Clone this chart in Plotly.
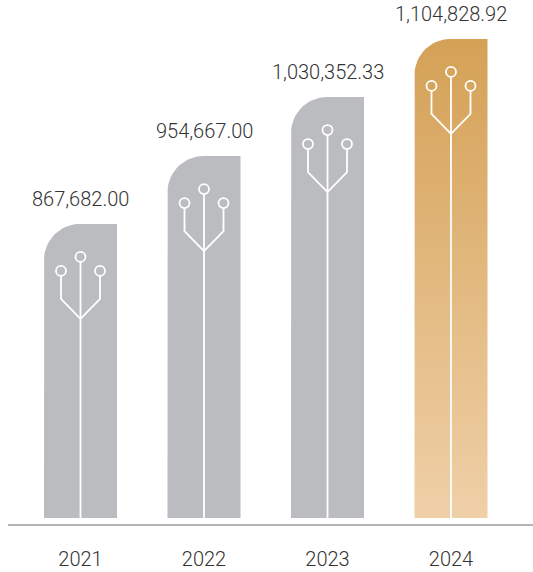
import numpy as np
import plotly.graph_objects as go

years = ["2021", "2022", "2023", "2024"]
values = [867682.00, 954667.00, 1030352.33, 1104828.92]
labels = ["867,682.00", "954,667.00", "1,030,352.33", "1,104,828.92"]

GREY = "#BBBCBF"
GOLD_TOP = "#D4A156"
GOLD_BOTTOM = "#F0D0A8"
TEXT = "#333333"
FONT = "Roboto"

W, H = 533, 572
M_L, M_B = 8, 48
PLOT_H = H - M_B
PX_X = 123.5            # pixels per category
X0_PX = 80.5            # pixel centre of first category
UNITS_PER_PX = 1282.0
BASE = 490664.0         # value at the bars' foot
FOOT_GAP = 6            # px between bar foot and axis line

xr = [(M_L - X0_PX) / PX_X, (W - X0_PX) / PX_X]
yr = [BASE - FOOT_GAP * UNITS_PER_PX, BASE + (PLOT_H - FOOT_GAP) * UNITS_PER_PX]


def dx(px):
    return px / PX_X


def dy(px):
    return px * UNITS_PER_PX


fig = go.Figure()
HALF = 36.5
R = 36
for i, v in enumerate(values):
    t = np.linspace(np.pi, np.pi / 2, 16)
    xs = [i - dx(HALF)] + list(i + dx(-HALF + R) + dx(R) * np.cos(t)) + [i + dx(HALF), i + dx(HALF), i - dx(HALF)]
    ys = [BASE] + list(v - dy(R) + dy(R) * np.sin(t)) + [v, BASE, BASE]
    tr = dict(x=xs, y=ys, mode="lines", line=dict(width=0), fill="toself", hoverinfo="skip", showlegend=False)
    if i == 3:
        tr["fillgradient"] = dict(type="vertical", colorscale=[[0, GOLD_BOTTOM], [1, GOLD_TOP]])
    else:
        tr["fillcolor"] = GREY
    fig.add_trace(go.Scatter(**tr))

    # tree icon
    C = 33
    O = 47
    EL = 75
    J = 95
    S = 19.5
    CR = 5
    lx = [i, i, None,
          i - dx(S), i - dx(S), i, None,
          i + dx(S), i + dx(S), i]
    ly = [v - dy(C + CR), BASE, None,
          v - dy(O + CR), v - dy(EL), v - dy(J), None,
          v - dy(O + CR), v - dy(EL), v - dy(J)]
    fig.add_trace(go.Scatter(x=lx, y=ly, mode="lines", line=dict(color="white", width=1.8),
                             hoverinfo="skip", showlegend=False))
    fig.add_trace(go.Scatter(x=[i - dx(S), i, i + dx(S)], y=[v - dy(O), v - dy(C), v - dy(O)], mode="markers",
                             marker=dict(symbol="circle-open", size=10, color="white", line=dict(color="white", width=1.8)),
                             hoverinfo="skip", showlegend=False))

    fig.add_annotation(x=i, y=v, xref="x", yref="y", text=labels[i], showarrow=False, yanchor="bottom",
                       yshift=11, font=dict(family=FONT, size=20, color=TEXT, weight=300))

fig.update_layout(
    width=W, height=H,
    margin=dict(l=M_L, r=0, t=0, b=M_B, pad=0),
    paper_bgcolor="white", plot_bgcolor="white",
    font=dict(family=FONT, size=20, color=TEXT, weight=300),
    xaxis=dict(range=xr, tickmode="array", tickvals=list(range(4)), ticktext=years, showgrid=False, zeroline=False,
               showline=True, linecolor="#B5B5B5", linewidth=1.5, ticks="", ticklabelstandoff=16, fixedrange=True,
               automargin=False),
    yaxis=dict(range=yr, visible=False, fixedrange=True, automargin=False),
)
fig.write_html("out.html", config=dict(displayModeBar=False), post_script="document.body.style.margin='0';")
